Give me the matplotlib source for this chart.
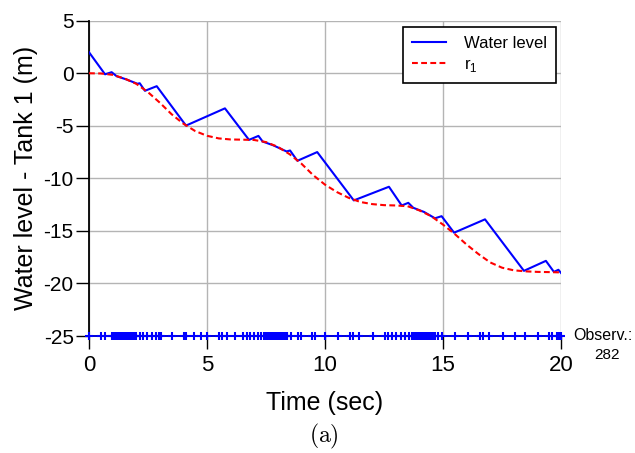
import matplotlib
matplotlib.use("Agg")
import matplotlib.pyplot as plt

# ---------------- data ----------------
level_t = [0.0, 0.68, 0.96, 1.17, 1.6, 2.05, 2.15, 2.37, 2.87, 4.11, 5.76, 6.78, 7.18,
           7.36, 7.8, 8.37, 8.52, 8.83, 9.67, 11.22, 12.71, 13.25, 13.53, 13.74, 14.2,
           14.66, 14.94, 15.47, 16.78, 18.43, 19.36, 19.7, 19.89, 20.0]
level_y = [2.0, -0.1, 0.1, -0.28, -0.6, -1.0, -0.95, -1.67, -1.23, -4.98, -3.34, -6.34, -5.96,
           -6.5, -6.85, -7.44, -7.35, -8.33, -7.5, -12.1, -10.8, -12.58, -12.33, -12.8, -13.2,
           -13.8, -13.6, -15.17, -13.9, -18.8, -17.85, -18.9, -18.7, -19.0]

r1_t = [0.0, 0.5, 1.0, 1.5, 2.0, 2.5, 3.0, 3.5, 4.0, 4.5, 5.0, 5.5, 6.0, 6.5, 7.0, 7.5,
        8.0, 8.5, 9.0, 9.5, 10.0, 10.5, 11.0, 11.5, 12.0, 12.5, 13.0, 13.5, 14.0, 14.5,
        15.0, 15.5, 16.0, 16.5, 17.0, 17.5, 18.0, 18.5, 19.0, 19.5, 20.0]
r1_y = [0.0, -0.02, -0.15, -0.5, -1.0, -1.8, -2.8, -3.9, -4.8, -5.5, -5.95, -6.2, -6.3,
        -6.32, -6.35, -6.55, -7.0, -7.7, -8.6, -9.7, -10.6, -11.3, -11.85, -12.25, -12.45,
        -12.55, -12.58, -12.65, -13.05, -13.6, -14.4, -15.3, -16.3, -17.2, -18.0, -18.5,
        -18.75, -18.85, -18.9, -18.92, -18.95]

obs_t = [0.0, 0.52, 0.67,
         0.97, 1.02, 1.07, 1.12, 1.17, 1.22, 1.27, 1.32, 1.37, 1.42, 1.47, 1.52, 1.57,
         1.62, 1.67, 1.72, 1.77, 1.82, 1.87, 1.92, 1.97, 2.0,
         2.16, 2.30, 2.45, 2.68, 2.83, 2.97, 3.05, 3.52, 4.01, 4.09, 4.46, 4.76, 5.01,
         5.50, 5.65, 5.84, 6.17, 6.54, 6.69, 6.84, 6.99, 7.14, 7.29,
         7.43, 7.48, 7.53, 7.58, 7.63, 7.68, 7.73, 7.78, 7.83, 7.88, 7.93, 7.98, 8.03,
         8.08, 8.13, 8.18, 8.23, 8.28, 8.33, 8.38, 8.40,
         8.55, 8.85, 9.0, 9.44, 9.59, 9.99, 10.56, 11.05, 11.2, 11.45, 12.04, 12.54,
         12.68, 12.83, 13.01, 13.23, 13.38, 13.58,
         13.68, 13.73, 13.78, 13.83, 13.88, 13.93, 13.98, 14.03, 14.08, 14.13, 14.18,
         14.23, 14.28, 14.33, 14.38, 14.43, 14.48, 14.53, 14.58, 14.63, 14.65,
         14.80, 14.94, 15.51, 16.06, 16.55, 16.70, 16.95, 17.55, 18.04, 18.48, 19.03,
         19.48, 19.63, 19.82, 19.93, 20.0]
obs_level = -25
obs_count = "282"

x_ticks = [0, 5, 10, 15, 20]
y_ticks = [5, 0, -5, -10, -15, -20, -25]

# ---------------- figure ----------------
plt.rcParams['font.family'] = ['Liberation Sans', 'DejaVu Sans']
plt.rcParams['axes.unicode_minus'] = False
W, H = 635, 453
fig = plt.figure(figsize=(W / 100, H / 100), dpi=100)
ax = fig.add_axes([89 / W, 1 - 336 / H, (561 - 89) / W, (336 - 20.7) / H])

ax.grid(True, color='#b4b4b4', linewidth=1.0, zorder=0)
ax.set_axisbelow(True)

ax.plot(level_t, level_y, color='#0000ff', lw=1.5, label='Water level', zorder=3)
ax.plot(r1_t, r1_y, color='#ff0000', lw=1.5, linestyle=(0, (2.8, 1.6)),
        label=r'r$_\mathregular{1}$', zorder=4)
ax.plot(obs_t, [obs_level] * len(obs_t), color='#0000ff', lw=1.2, marker='+',
        ms=5.5, mew=1.5, clip_on=False, zorder=5)

ax.set_xlim(0, 20)
ax.set_ylim(-25, 5)
ax.set_xticks(x_ticks)
ax.set_yticks(y_ticks)
ax.tick_params(axis='x', direction='out', length=9, width=1.0, labelsize=16,
               color='black', pad=4.5)
ax.tick_params(axis='y', direction='out', length=9.5, width=1.0, labelsize=15,
               color='black', pad=1.5)
for s in ('top', 'right'):
    ax.spines[s].set_visible(False)
for s in ('left', 'bottom'):
    ax.spines[s].set_linewidth(1.3)
    ax.spines[s].set_zorder(2)

ax.set_xlabel('Time (sec)', fontsize=18)
ax.set_ylabel('Water level - Tank 1 (m)', fontsize=18)
ax.xaxis.set_label_coords(0.5, -0.175)
ax.yaxis.set_label_coords(-0.108, 0.5)

leg = ax.legend(loc='upper right', bbox_to_anchor=(556 / W, 1 - 27 / H),
                bbox_transform=fig.transFigure, borderaxespad=0, fontsize=12,
                fancybox=False, edgecolor='black', framealpha=1, handlelength=2.0,
                handletextpad=1.1, borderpad=0.55, labelspacing=0.35)
leg.get_frame().set_linewidth(1.2)

fig.text(573 / W, 1 - 335 / H, 'Observ.:', fontsize=11.5, ha='left', va='center')
fig.text(607 / W, 1 - 355 / H, obs_count, fontsize=11, ha='center', va='center')
fig.text(324 / W, 1 - 436 / H, r'$\mathrm{(a)}$', fontsize=17, ha='center',
         va='center', math_fontfamily='cm')

fig.savefig('out.png', dpi=100)
